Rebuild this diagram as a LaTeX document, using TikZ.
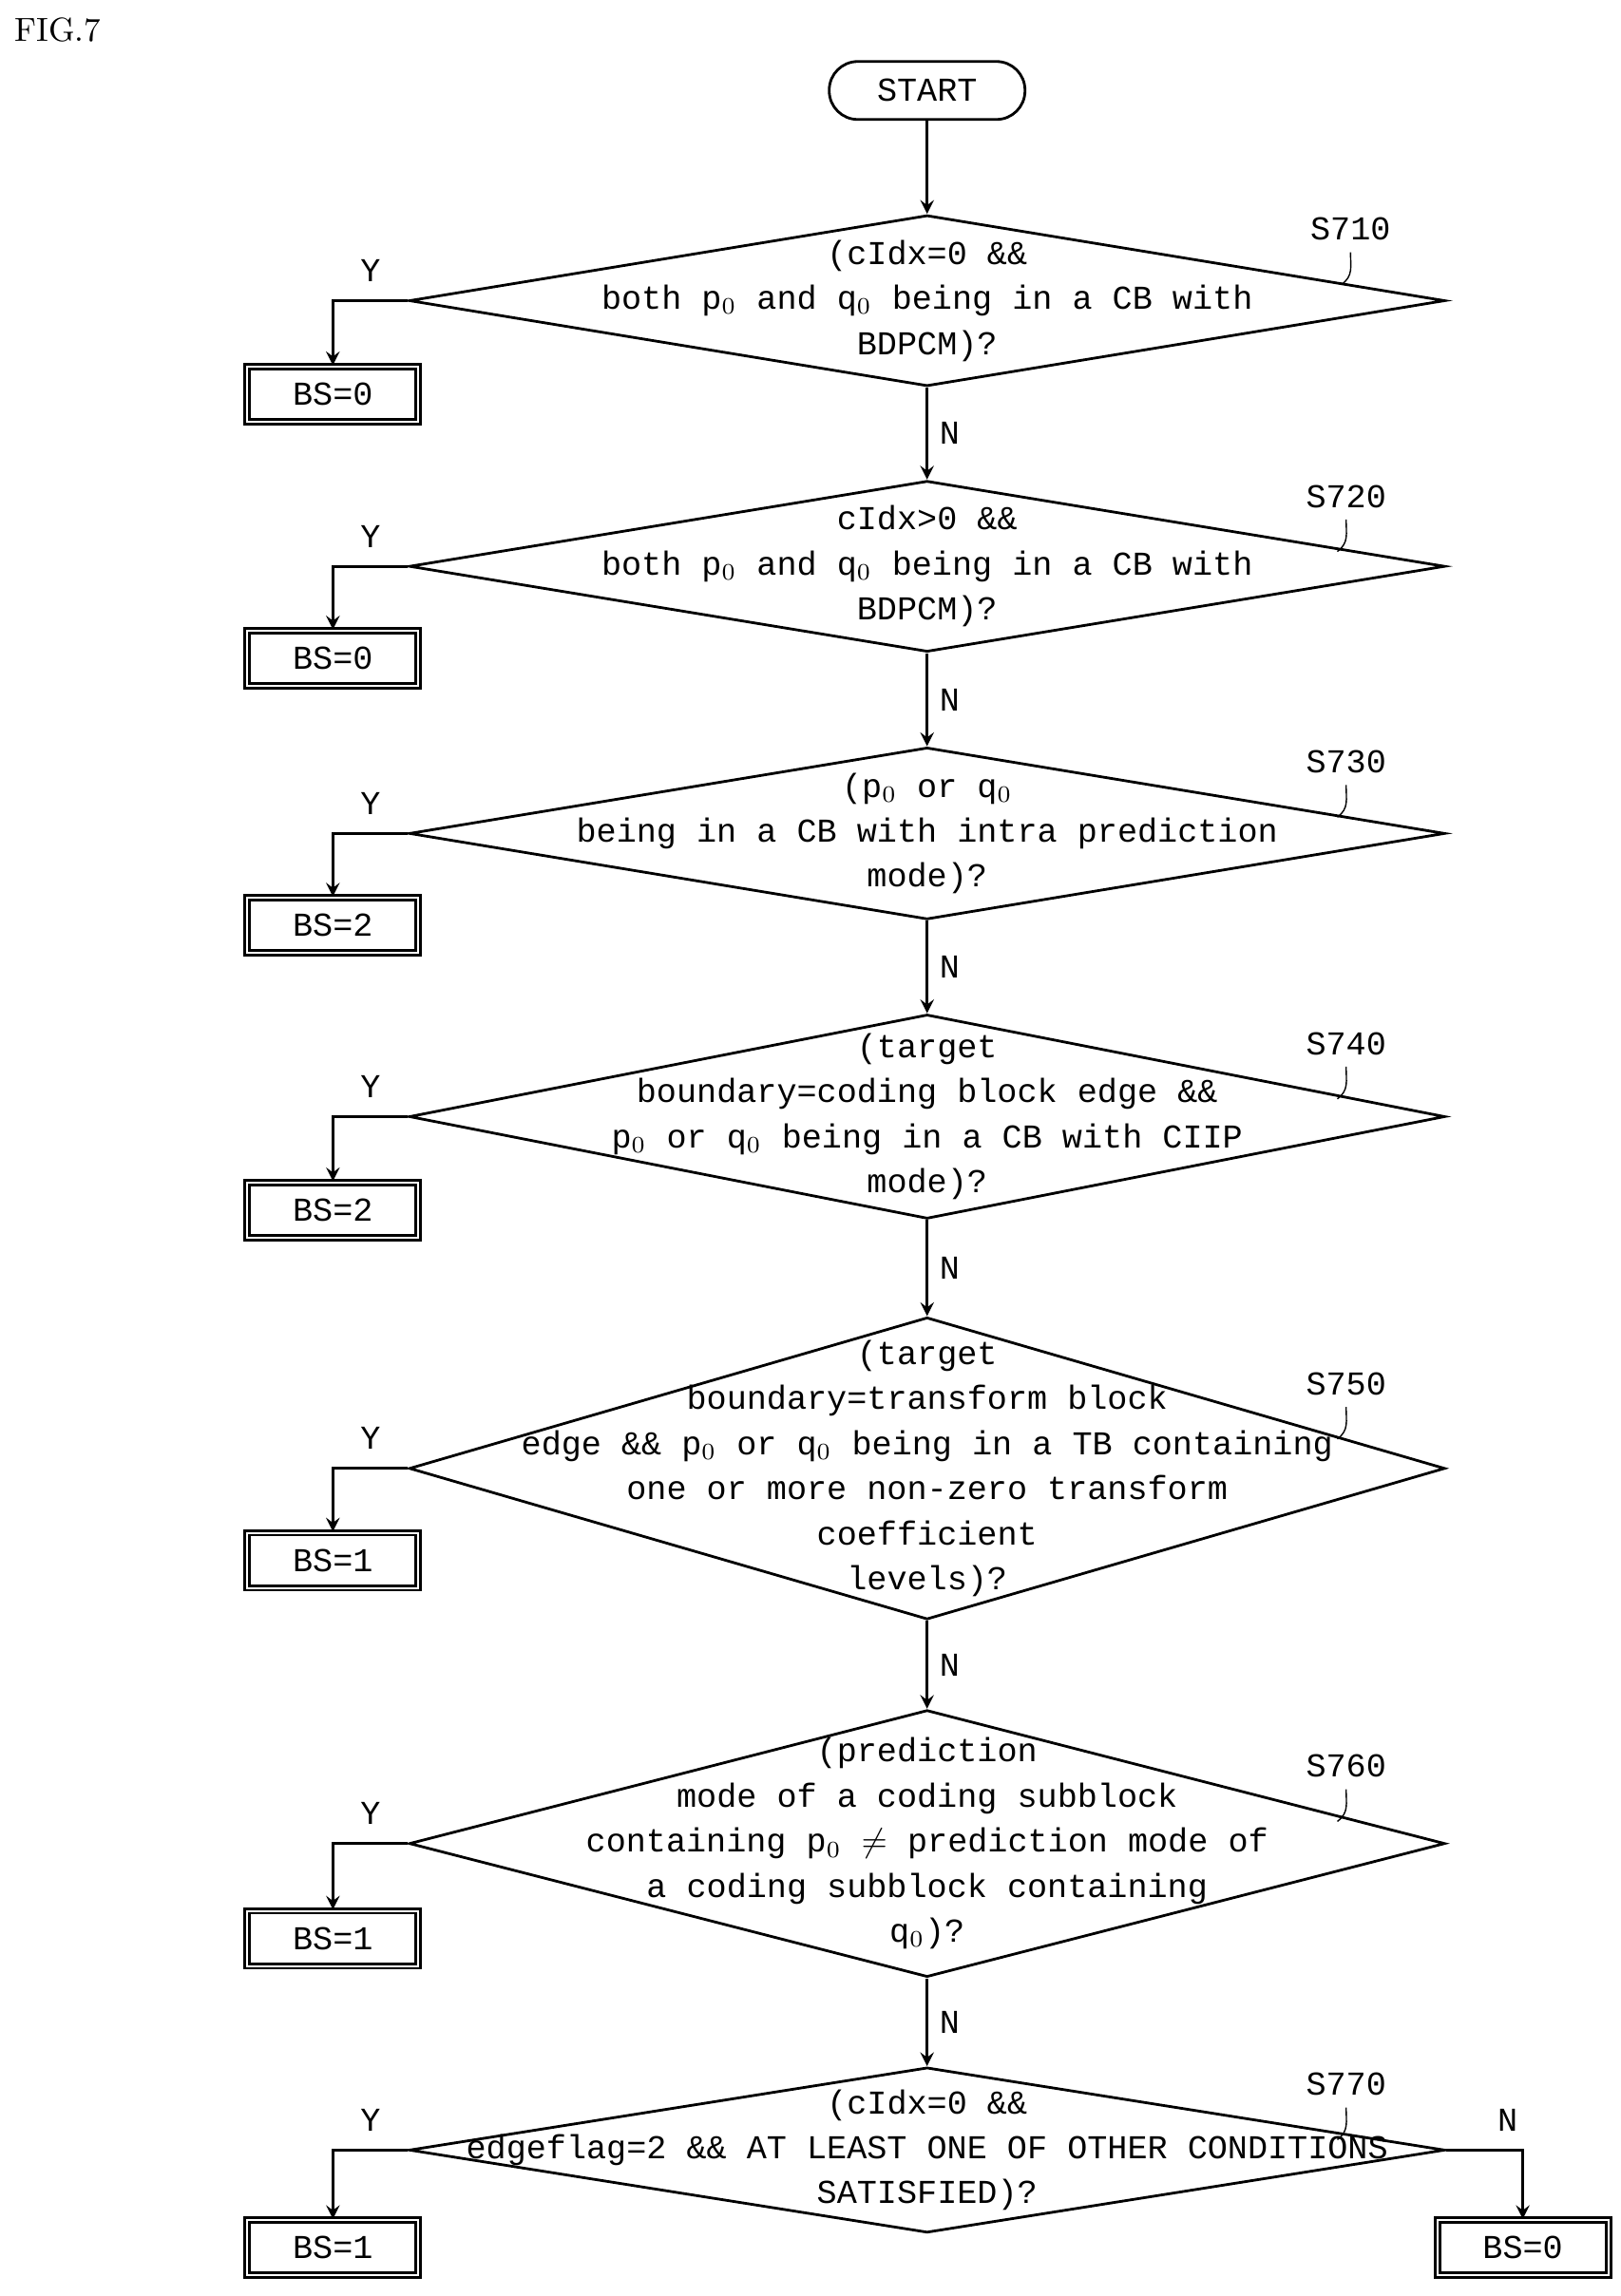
\documentclass[tikz,border=0pt]{standalone}
\usepackage{fontspec}
\setmonofont{Liberation Mono}
\usetikzlibrary{shapes.geometric}
\usetikzlibrary{positioning}
\tikzset{
  dec/.style={diamond, draw, thick, inner sep=0pt, minimum width=10.9cm},
  dectext/.style={align=center, font=\ttfamily\fontsize{10}{13.5}\selectfont},
  bs/.style={rectangle, draw, thick, minimum width=1.8cm, minimum height=0.58cm,
    font=\ttfamily\fontsize{10}{12}\selectfont, double distance=0.6pt},
  lbl/.style={font=\ttfamily\fontsize{10}{12}\selectfont},
  arr/.style={->, thick, >=stealth}
}
\begin{document}
\begin{tikzpicture}[x=0.01536cm, y=-0.01536cm]
  \useasboundingbox (0,0) rectangle (1110,1573);
  \node[font=\rmfamily\fontsize{10}{12}\selectfont, anchor=north west] (fig) at (2,4) {FIG.7};

  % start
  \node[draw, thick, rounded corners=0.3cm, minimum width=2.06cm, minimum height=0.61cm,
    font=\ttfamily\fontsize{10}{12}\selectfont] (start) at (635,62) {START};

  % decisions
  \node[dec, minimum height=1.80cm] (d1) at (635,206) {};
  \node[dectext] (t1) at (d1) {(cIdx=0 \&\&\\both p$_0$ and q$_0$ being in a CB with\\BDPCM)?};
  \node[dec, minimum height=1.80cm] (d2) at (635,388) {};
  \node[dectext] (t2) at (d2) {cIdx>0 \&\&\\both p$_0$ and q$_0$ being in a CB with\\BDPCM)?};
  \node[dec, minimum height=1.81cm] (d3) at (635,571) {};
  \node[dectext] (t3) at (d3) {(p$_0$ or q$_0$\\being in a CB with intra prediction\\mode)?};
  \node[dec, minimum height=2.15cm] (d4) at (635,765) {};
  \node[dectext] (t4) at (d4) {(target\\boundary=coding block edge \&\&\\p$_0$ or q$_0$ being in a CB with CIIP\\mode)?};
  \node[dec, minimum height=3.18cm] (d5) at (635,1006) {};
  \node[dectext] (t5) at (d5) {(target\\boundary=transform block\\edge \&\& p$_0$ or q$_0$ being in a TB containing\\one or more non-zero transform\\coefficient\\levels)?};
  \node[dec, minimum height=2.81cm] (d6) at (635,1263) {};
  \node[dectext] (t6) at (d6) {(prediction\\mode of a coding subblock\\containing p$_0$ $\neq$ prediction mode of\\a coding subblock containing\\q$_0$)?};
  \node[dec, minimum height=1.74cm] (d7) at (635,1473) {};
  \node[dectext] (t7) at (d7) {(cIdx=0 \&\&\\edgeflag=2 \&\& AT LEAST ONE OF OTHER CONDITIONS\\SATISFIED)?};

  % step labels
  \node[lbl] (s1) at (925,157) {S710};
  \node[lbl] (s2) at (922,340) {S720};
  \node[lbl] (s3) at (922,522) {S730};
  \node[lbl] (s4) at (922,715) {S740};
  \node[lbl] (s5) at (922,948) {S750};
  \node[lbl] (s6) at (922,1210) {S760};
  \node[lbl] (s7) at (922,1428) {S770};
  \foreach \i in {1,...,7} {
    \draw (s\i.south) .. controls ++(0,10) and ++(8,-6) .. ++(-6,22);
  }

  % results
  \node[bs] (b1) at (228,270) {BS=0};
  \node[bs] (b2) at (228,451) {BS=0};
  \node[bs] (b3) at (228,634) {BS=2};
  \node[bs] (b4) at (228,829) {BS=2};
  \node[bs] (b5) at (228,1069) {BS=1};
  \node[bs] (b6) at (228,1328) {BS=1};
  \node[bs] (b7) at (228,1540) {BS=1};
  \node[bs] (b8) at (1043,1540) {BS=0};

  % main flow
  \draw[arr] (start) -- (d1.north);
  \draw[arr] (d1.south) -- node[lbl, right] {N} (d2.north);
  \draw[arr] (d2.south) -- node[lbl, right] {N} (d3.north);
  \draw[arr] (d3.south) -- node[lbl, right] {N} (d4.north);
  \draw[arr] (d4.south) -- node[lbl, right] {N} (d5.north);
  \draw[arr] (d5.south) -- node[lbl, right] {N} (d6.north);
  \draw[arr] (d6.south) -- node[lbl, right] {N} (d7.north);

  % yes branches
  \foreach \i in {1,...,7} {
    \draw[arr] (d\i.west) -| node[lbl, pos=0.25, above=2pt] {Y} (b\i.north);
  }
  \draw[arr] (d7.east) -| node[lbl, pos=0.4, above=2pt] {N} (b8.north);
\end{tikzpicture}
\end{document}
